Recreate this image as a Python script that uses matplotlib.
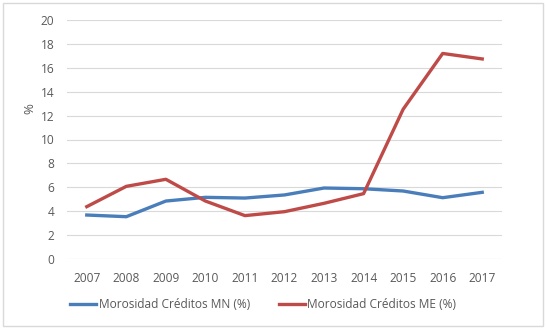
import matplotlib.pyplot as plt
from matplotlib.patches import Rectangle

years = ['2007', '2008', '2009', '2010', '2011', '2012', '2013', '2014', '2015', '2016', '2017']
mn = [3.68, 3.54, 4.85, 5.16, 5.10, 5.36, 5.94, 5.88, 5.69, 5.13, 5.58]
me = [4.38, 6.08, 6.67, 4.85, 3.63, 3.96, 4.66, 5.47, 12.53, 17.2, 16.74]

plt.rcParams['font.family'] = ['Open Sans', 'DejaVu Sans']
txt = '#595959'

fig = plt.figure(figsize=(5.46, 3.28), dpi=100)
fig.patches.append(Rectangle((3/546, 2/328), 540/546, 323/328, transform=fig.transFigure,
                             fill=False, edgecolor='#D9D9D9', linewidth=1))
ax = fig.add_axes([67/546, 69/328, 435/546, 239/328])

x = range(len(years))
ax.plot(x, mn, color='#4A7EBB', linewidth=2.4, label='Morosidad Créditos MN (%)')
ax.plot(x, me, color='#BE4B48', linewidth=2.4, label='Morosidad Créditos ME (%)')

ax.set_xlim(-0.5, len(years) - 0.5)
ax.set_ylim(0, 20)
ax.set_yticks(range(0, 21, 2))
ax.set_xticks(list(x))
ax.set_xticklabels(years)
ax.grid(axis='y', color='#D9D9D9', linewidth=0.8)
ax.set_axisbelow(True)
for s in ax.spines.values():
    s.set_visible(False)
ax.tick_params(length=0, labelsize=8.6, labelcolor=txt, pad=9)
ax.set_ylabel('%', fontsize=9.5, color=txt)
ax.yaxis.set_label_coords(-0.07, 0.63)

fig.legend(loc='center', bbox_to_anchor=(0.482, 23/328), ncol=2, frameon=False,
           fontsize=8.6, labelcolor=txt, handlelength=2.2, columnspacing=2.4, handletextpad=0.2)

fig.savefig('out.png', dpi=100)
